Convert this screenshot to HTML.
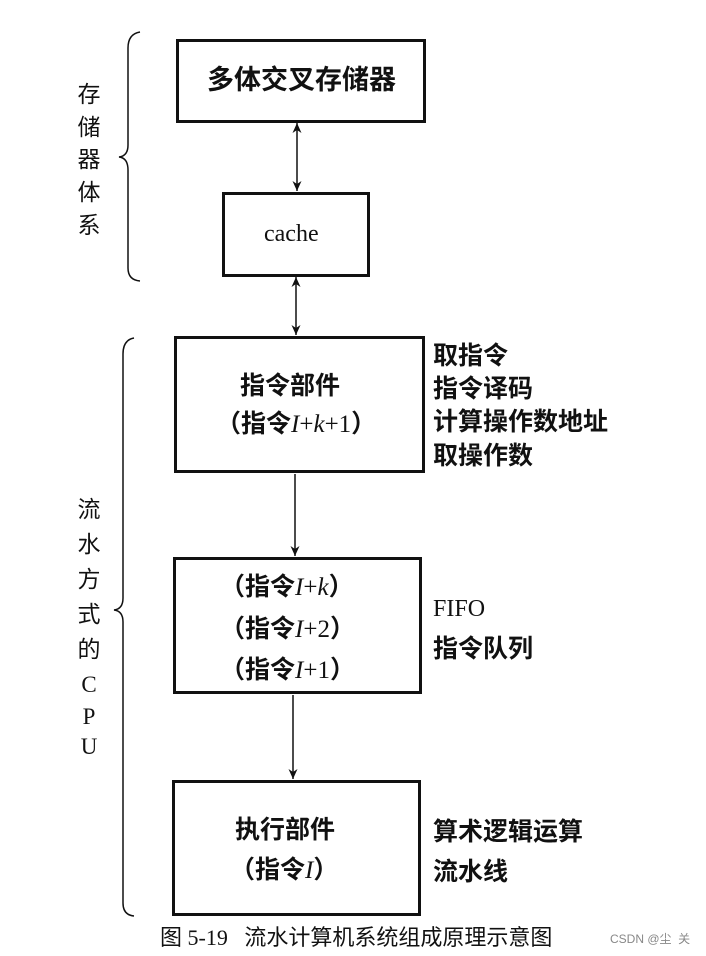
<!DOCTYPE html>
<html><head><meta charset="utf-8"><style>
body{margin:0;background:#fff;}
#c{position:relative;width:706px;height:956px;overflow:hidden;font-family:"Liberation Serif","Noto Sans CJK SC",serif;color:#111;}
.b{position:absolute;border:3px solid #111;box-sizing:border-box;text-align:center;}
.t{position:absolute;font-size:25px;white-space:nowrap;line-height:1;font-weight:bold;}
.l{position:absolute;font-size:23px;left:77px;width:24px;text-align:center;line-height:1;}
i{font-style:italic;font-weight:normal;}
.n{font-weight:normal;}
</style></head><body><div id="c">
<svg width="706" height="956" style="position:absolute;left:0;top:0">
<defs><marker id="a" markerWidth="10" markerHeight="12" refX="10" refY="5" orient="auto-start-reverse" markerUnits="userSpaceOnUse"><path d="M0,0.5 L10,5 L0,9.5 L3,5z" fill="#111"/></marker></defs>
<g stroke="#111" stroke-width="1.5" fill="none">
<line x1="297" y1="123" x2="297" y2="191" marker-start="url(#a)" marker-end="url(#a)"/>
<line x1="296" y1="277" x2="296" y2="335" marker-start="url(#a)" marker-end="url(#a)"/>
<line x1="295" y1="474" x2="295" y2="556" marker-end="url(#a)"/>
<line x1="293" y1="695" x2="293" y2="779" marker-end="url(#a)"/>
<path d="M140,32 Q128,34 128,48 L128,145 Q128,156 119,157 Q128,158 128,170 L128,268 Q128,280 140,281"/>
<path d="M134,338 Q123,340 123,354 L123,598 Q123,609 114,610 Q123,611 123,622 L123,903 Q123,915 134,916"/>
</g></svg>
<div class="b" style="left:176px;top:39px;width:250px;height:84px"></div>
<div class="t" style="left:207px;top:67px;font-size:27px">多体交叉存储器</div>
<div class="b" style="left:222px;top:192px;width:148px;height:85px"></div>
<div class="t n" style="left:264px;top:222px;font-size:24px">cache</div>
<div class="b" style="left:174px;top:336px;width:251px;height:137px"></div>
<div class="t" style="left:240px;top:374px">指令部件</div>
<div class="t" style="left:216px;top:412px">（指令<i>I</i><span class="n">+</span><i>k</i><span class="n">+1</span>）</div>
<div class="b" style="left:173px;top:557px;width:249px;height:137px"></div>
<div class="t" style="left:220px;top:575px">（指令<i>I</i><span class="n">+</span><i>k</i>）</div>
<div class="t" style="left:220px;top:617px">（指令<i>I</i><span class="n">+2</span>）</div>
<div class="t" style="left:220px;top:658px">（指令<i>I</i><span class="n">+1</span>）</div>
<div class="b" style="left:172px;top:780px;width:249px;height:136px"></div>
<div class="t" style="left:235px;top:818px">执行部件</div>
<div class="t" style="left:230px;top:858px">（指令<i>I</i>）</div>
<div class="t" style="left:433px;top:344px">取指令</div>
<div class="t" style="left:433px;top:377px">指令译码</div>
<div class="t" style="left:433px;top:410px">计算操作数地址</div>
<div class="t" style="left:433px;top:444px">取操作数</div>
<div class="t n" style="left:433px;top:597px;font-size:24px">FIFO</div>
<div class="t" style="left:433px;top:637px">指令队列</div>
<div class="t" style="left:433px;top:820px">算术逻辑运算</div>
<div class="t" style="left:433px;top:860px">流水线</div>
<div class="l" style="top:83px">存</div><div class="l" style="top:116px">储</div><div class="l" style="top:148px">器</div><div class="l" style="top:181px">体</div><div class="l" style="top:214px">系</div>
<div class="l" style="top:498px">流</div><div class="l" style="top:533px">水</div><div class="l" style="top:568px">方</div><div class="l" style="top:603px">式</div><div class="l" style="top:638px">的</div><div class="l" style="top:673px">C</div><div class="l" style="top:705px">P</div><div class="l" style="top:735px">U</div>
<div class="t n" style="left:160px;top:927px;font-size:22px">图 5-19&nbsp;&nbsp;&nbsp;流水计算机系统组成原理示意图</div>
<div class="t n" style="left:610px;top:933px;font-size:12px;color:#888;font-family:'Liberation Sans','Noto Sans CJK SC',sans-serif">CSDN @尘&nbsp;&nbsp;关</div>
</div></body></html>
